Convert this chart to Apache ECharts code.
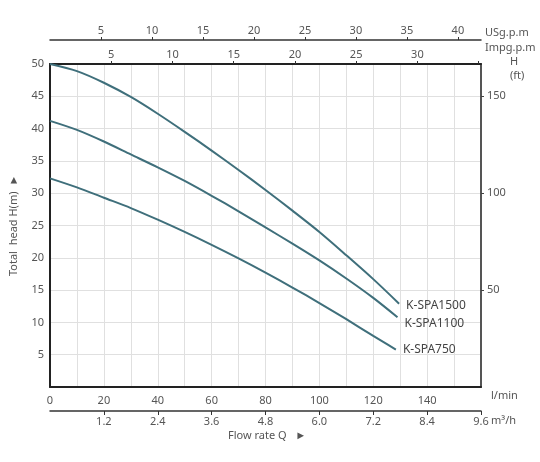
<!DOCTYPE html>
<html>
<head>
<meta charset="utf-8">
<script src="https://cdn.jsdelivr.net/npm/echarts@6/dist/echarts.min.js"></script>
<style>
  html, body { margin: 0; padding: 0; background: #fff; }
  #chart { width: 540px; height: 462px; }
</style>
</head>
<body>
<div id="chart"></div>
<script>
// flow in l/min, head in m
const flow1500 = [0, 10, 20, 30, 40, 50, 60, 70, 80, 90, 100, 110, 120, 129.6];
const head1500 = [50, 48.9, 47.1, 44.9, 42.3, 39.5, 36.6, 33.6, 30.5, 27.3, 24.0, 20.4, 16.7, 12.9];
const flow1100 = [0, 10, 20, 30, 40, 50, 60, 70, 80, 90, 100, 110, 120, 129];
const head1100 = [41.2, 39.8, 38.0, 36.0, 34.0, 31.9, 29.6, 27.2, 24.7, 22.2, 19.6, 16.8, 13.8, 10.8];
const flow750 = [0, 10, 20, 30, 40, 50, 60, 70, 80, 90, 100, 110, 120, 128.4];
const head750 = [32.3, 30.9, 29.3, 27.7, 25.9, 24.0, 22.0, 19.9, 17.7, 15.4, 13.0, 10.5, 7.9, 5.8];
const seriesNames = ['K-SPA1500', 'K-SPA1100', 'K-SPA750'];

const lineColor = '#3f6f7b';
const labelColor = '#555'; // 坐标文字颜色
const font = 'Noto Sans';

const pairs = (xs, ys) => xs.map((x, i) => [x, ys[i]]);

function curve(name, data, dy) {
  return {
    name: name,
    type: 'line',
    data: data,
    smooth: 0.3,
    showSymbol: false,
    lineStyle: { color: lineColor, width: 2 },
    itemStyle: { color: lineColor },
    endLabel: {
      show: true,
      formatter: '{a}',
      distance: 7,
      offset: [0, dy],
      color: '#444',
      fontFamily: font,
      fontSize: 12
    }
  };
}

function txt(x, y, s, align) {
  return {
    type: 'text', left: x, top: y,
    style: { text: s, fill: labelColor, font: '11px "' + font + '"', textAlign: align || 'left' }
  };
}

const chart = echarts.init(document.getElementById('chart'));
chart.setOption({
  animation: false,
  grid: { left: 50, right: 59, top: 64, bottom: 75 },
  xAxis: [{
    type: 'value', min: 0, max: 160, interval: 10, position: 'bottom',
    axisLine: { lineStyle: { color: '#222', width: 2 } },
    axisTick: { show: false },
    axisLabel: {
      color: labelColor, fontFamily: font, fontSize: 11, margin: 8,
      formatter: v => (v % 20 === 0 && v < 160) ? v : ''
    },
    splitLine: { show: true, lineStyle: { color: '#e0e0e0', width: 1 } }
  }, {
    type: 'value', min: 0, max: 9.6, interval: 1.2, position: 'bottom', offset: 24,
    axisLine: { onZero: false, lineStyle: { color: '#333', width: 1.5 } },
    axisTick: { show: true, length: 4, lineStyle: { color: '#333' } },
    axisLabel: {
      color: labelColor, fontFamily: font, fontSize: 11, margin: 5,
      showMinLabel: false,
      formatter: v => v === 0 ? '' : v.toFixed(1)
    },
    splitLine: { show: false }
  }, {
    type: 'value', min: 0, max: 160 / 4.54609, interval: 5, position: 'top', offset: 0,
    axisLine: { onZero: false, lineStyle: { color: '#222', width: 2 } },
    axisTick: { show: true, length: 3, lineStyle: { color: '#333' } },
    axisLabel: {
      color: labelColor, fontFamily: font, fontSize: 11, margin: 4,
      showMinLabel: false, showMaxLabel: false,
      formatter: v => (v === 0 || v > 30) ? '' : v
    },
    splitLine: { show: false }
  }, {
    type: 'value', min: 0, max: 160 / 3.78541, interval: 5, position: 'top', offset: 24,
    axisLine: { onZero: false, lineStyle: { color: '#333', width: 1.5 } },
    axisTick: { show: true, length: 3, lineStyle: { color: '#333' } },
    axisLabel: {
      color: labelColor, fontFamily: font, fontSize: 11, margin: 4,
      showMinLabel: false, showMaxLabel: false
    },
    splitLine: { show: false }
  }],
  yAxis: [{
    type: 'value', min: 0, max: 50, interval: 5, position: 'left',
    name: 'Total  head H(m)  ►',
    nameLocation: 'middle', nameRotate: 90, nameGap: 31,
    nameTextStyle: { color: labelColor, fontFamily: font, fontSize: 11 },
    axisLine: { show: true, lineStyle: { color: '#222', width: 2 } },
    axisTick: { show: false },
    axisLabel: {
      color: labelColor, fontFamily: font, fontSize: 11, margin: 6,
      showMinLabel: false,
      formatter: v => v === 0 ? '' : v
    },
    splitLine: { show: true, lineStyle: { color: '#e0e0e0', width: 1 } }
  }, {
    type: 'value', min: 0, max: 166.5, interval: 50, position: 'right',
    axisLine: { show: true, onZero: false, lineStyle: { color: '#555', width: 2 } },
    axisTick: { show: true, length: 3, lineStyle: { color: '#444' } },
    axisLabel: {
      color: labelColor, fontFamily: font, fontSize: 11, margin: 6,
      showMinLabel: false, showMaxLabel: false,
      formatter: v => (v === 0 || v % 50 !== 0) ? '' : v
    },
    splitLine: { show: false }
  }],
  graphic: [
    txt(485, 27, 'USg.p.m'),
    txt(485, 42, 'Impg.p.m'),
    txt(510, 56, 'H', 'center'),
    txt(510, 70, '(ft)', 'center'),
    txt(491, 390, 'l/min'),
    txt(491, 415, 'm³/h'),
    txt(228, 430, 'Flow rate Q   ►')
  ],
  series: [
    curve(seriesNames[0], pairs(flow1500, head1500), 2),
    curve(seriesNames[1], pairs(flow1100, head1100), 6),
    curve(seriesNames[2], pairs(flow750, head750), 0)
  ]
});
</script>
</body>
</html>
